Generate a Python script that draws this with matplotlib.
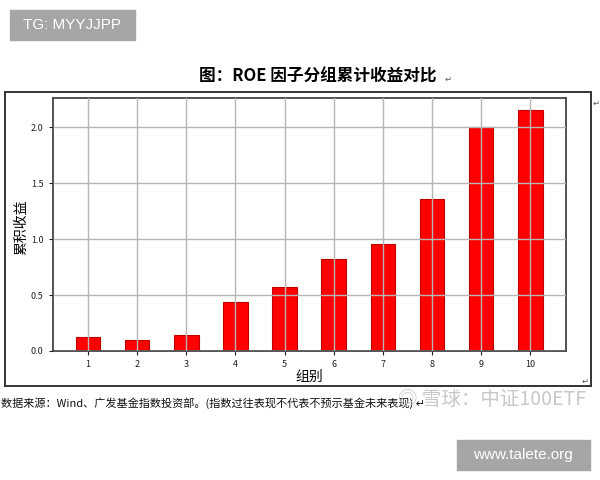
import matplotlib
matplotlib.use('Agg')
import matplotlib.pyplot as plt
from matplotlib.patches import Rectangle

plt.rcParams['font.family'] = ['Noto Sans CJK SC', 'DejaVu Sans']
plt.rcParams['axes.unicode_minus'] = False

# dati
gruppi = [1, 2, 3, 4, 5, 6, 7, 8, 9, 10]
rendimento = [0.122, 0.098, 0.146, 0.44, 0.575, 0.825, 0.953, 1.36, 2.003, 2.152]
yticks = [0.0, 0.5, 1.0, 1.5, 2.0]

fig = plt.figure(figsize=(6, 4.8), dpi=100)

# cornice esterna
fig.patches.append(Rectangle((5 / 600, 1 - 386 / 480), 586 / 600, 294 / 480,
                             transform=fig.transFigure, fill=False,
                             edgecolor='#333333', linewidth=1.4))

ax = fig.add_axes([0.0878, 0.269, 0.855, 0.526])
ax.bar(gruppi, rendimento, width=0.5, color='#ff0000', edgecolor='#c00000',
       linewidth=0.8, zorder=2)
ax.grid(True, color='#b5b5b5', linewidth=1.0, zorder=3)
ax.set_axisbelow(False)
ax.set_xlim(0.28, 10.72)
ax.set_ylim(0, 2.26)
ax.set_xticks(gruppi)
ax.set_yticks(yticks)
ax.set_yticklabels(['%.1f' % v for v in yticks])
ax.tick_params(labelsize=6.5, length=3, width=0.8, colors='#222222')
for s in ax.spines.values():
    s.set_color('#444444')
    s.set_linewidth(1.3)

ax.set_xlabel('组别', fontsize=10, labelpad=1)
ax.set_ylabel('累积收益', fontsize=10)
ax.yaxis.set_label_coords(-0.047, 0.49)

fig.text(318 / 600, 1 - 77 / 480, '图：ROE 因子分组累计收益对比', fontsize=12,
         fontweight='bold', ha='center', va='center')
fig.text(448 / 600, 1 - 79 / 480, '↵', fontsize=6, ha='center', va='center',
         color='#555555')
fig.text(596 / 600, 1 - 103 / 480, '↵', fontsize=6, ha='center', va='center',
         color='#555555')
fig.text(585 / 600, 1 - 381 / 480, '↵', fontsize=6, ha='center', va='center',
         color='#555555')

fig.text(1 / 600, 1 - 403 / 480,
         '数据来源：Wind、广发基金指数投资部。(指数过往表现不代表不预示基金未来表现) ↵',
         fontsize=8, ha='left', va='center', color='#111111')

# filigrane
fig.text(586 / 600, 1 - 399 / 480, '◎ 雪球：中证100ETF', fontsize=14,
         ha='right', va='center', color='#c8c8c8')

fig.patches.append(Rectangle((10 / 600, 1 - 40 / 480), 125 / 600, 30 / 480,
                             transform=fig.transFigure, color='#a6a6a6'))
fig.text(72 / 600, 1 - 25 / 480, 'TG: MYYJJPP', fontsize=11, ha='center',
         va='center', color='white', family='Liberation Sans')
fig.patches.append(Rectangle((457 / 600, 1 - 470 / 480), 133 / 600, 30 / 480,
                             transform=fig.transFigure, color='#a6a6a6'))
fig.text(523 / 600, 1 - 455 / 480, 'www.talete.org', fontsize=11, ha='center',
         va='center', color='white', family='Liberation Sans')

fig.savefig('out.png', dpi=100)
